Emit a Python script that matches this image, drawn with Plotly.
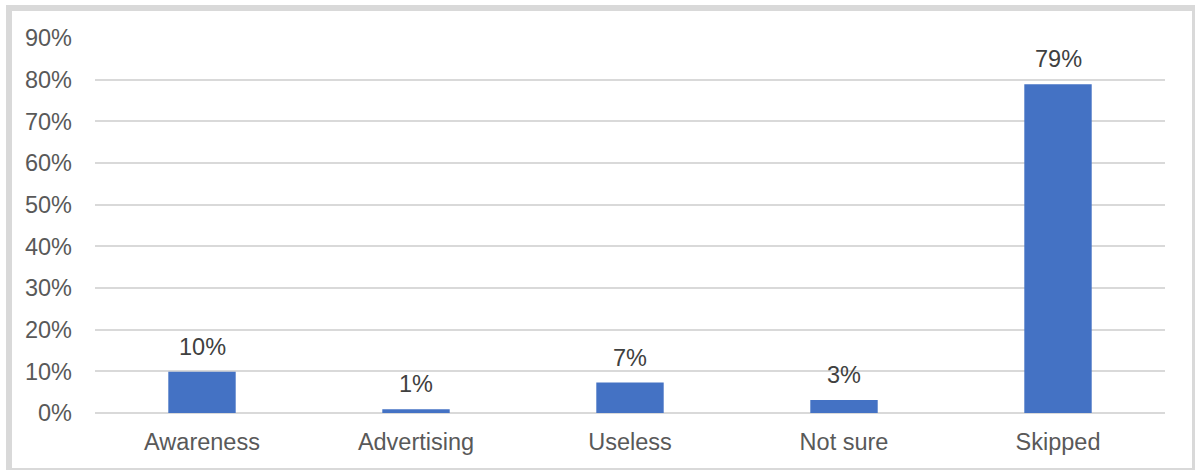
import plotly.graph_objects as go

# Survey responses: share of respondents per answer
categories = ["Awareness", "Advertising", "Useless", "Not sure", "Skipped"]
shares = [0.099, 0.009, 0.073, 0.031, 0.789]
y_ticks = [0.0, 0.1, 0.2, 0.3, 0.4, 0.5, 0.6, 0.7, 0.8, 0.9]
y_tick_labels = ["0%", "10%", "20%", "30%", "40%", "50%", "60%", "70%", "80%", "90%"]

W, H = 1195, 470
L, R, T, B = 95, 30, 38, 57
pw, ph = W - L - R, H - T - B

BAR = "#4472C4"
GRID = "#d9d9d9"
FONT = "Liberation Sans, Arial, sans-serif"
FS = 23.5

fig = go.Figure(
    go.Bar(
        x=categories,
        y=shares,
        marker=dict(color=BAR, line=dict(width=0)),
        hoverinfo="skip",
    )
)

# Value labels above each bar
for cat, val in zip(categories, shares):
    fig.add_annotation(
        x=cat, y=val, text=f"{val:.0%}", showarrow=False,
        yanchor="bottom", yshift=10,
        font=dict(family=FONT, size=FS, color="#404040"),
    )


def px_to_paper_x(px):
    return (px - L) / pw


def px_to_paper_y(py):
    return (H - B - py) / ph


# Chart frame
fig.add_shape(
    type="rect", xref="paper", yref="paper",
    x0=px_to_paper_x(9), x1=px_to_paper_x(1195),
    y0=px_to_paper_y(471), y1=px_to_paper_y(8),
    line=dict(color=GRID, width=6), fillcolor="rgba(0,0,0,0)", layer="below",
)

fig.update_layout(
    width=W, height=H,
    margin=dict(l=L, r=R, t=T, b=B, pad=0),
    paper_bgcolor="white", plot_bgcolor="white",
    bargap=0.685,
    showlegend=False,
    font=dict(family=FONT, size=FS, color="#595959"),
    xaxis=dict(
        showgrid=False, showline=False, zeroline=False,
        ticks="", tickfont=dict(size=FS, color="#595959"),
        ticklabelstandoff=12,
    ),
    yaxis=dict(
        range=[0, 0.9], tickvals=y_ticks, ticktext=y_tick_labels,
        showgrid=True, gridcolor=GRID, gridwidth=1.5,
        zeroline=True, zerolinecolor=GRID, zerolinewidth=1.5,
        showline=False, ticks="", ticklabelstandoff=22,
        tickfont=dict(size=FS, color="#595959"),
    ),
)

fig.write_html("out.html")
